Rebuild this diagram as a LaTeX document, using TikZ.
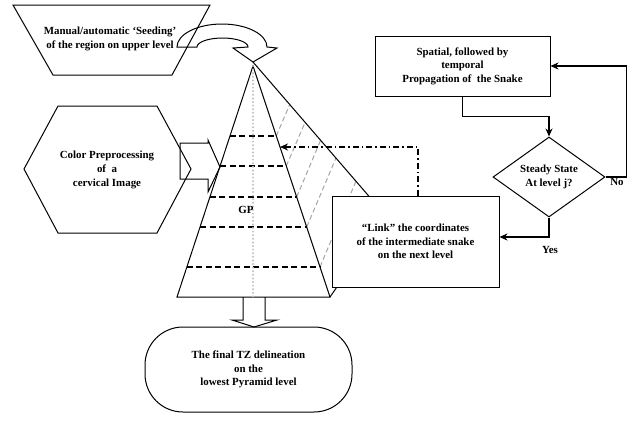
\documentclass[tikz,border=0pt]{standalone}
\usepackage{fontspec}
\setmainfont{Liberation Serif}
\usetikzlibrary{shapes.geometric,arrows.meta,calc}
\begin{document}
\begin{tikzpicture}[x=1pt,y=-1pt,
  txt/.style={font=\fontsize{10.9}{13.6}\selectfont\bfseries, align=center},
  shp/.style={line width=1pt},
  conn/.style={line width=1.3pt, -{Stealth[length=8pt,width=7pt]}},
  dashdotline/.style={line width=1.3pt, dash pattern=on 6pt off 3pt on 1.5pt off 3pt, -{Stealth[length=8pt,width=7pt]}},
  lvl/.style={line width=1.5pt, dash pattern=on 6pt off 3.5pt},
  gdash/.style={draw=gray!70, line width=1pt, dash pattern=on 5pt off 3pt},
  ]
\useasboundingbox (0,0) rectangle (635,421);

% pyramid
\coordinate (apex) at (253,66);
\coordinate (bl) at (177,297);
\coordinate (br) at (330,297);
\coordinate (back) at (386,216);
\coordinate (lk) at (280,147);

\draw[gdash] (276.3,136) -- (289.5,105);
\draw[gdash] (286.3,166) -- (305,122.5);
\draw[gdash] (296.7,197) -- (320.5,140.5);
\draw[gdash] (306.7,227) -- (336,158);
\draw[gdash] (320,267) -- (356,181);

\draw[shp] (253,62) -- (back);
\draw[shp] (br) -- (back);
\draw[shp] (apex) -- (bl) -- (br) -- cycle;
\foreach \yy in {136,166,197,227,267}
  \draw[lvl] ($(apex)!{(\yy-66)/231}!(bl)$) -- ($(apex)!{(\yy-66)/231}!(br)$);
\draw[gray!50, line width=2.2pt, line cap=round, dash pattern=on 0pt off 3.6pt] (apex) -- (253,297);
\node[txt] (gp) at (246,210) {GP};

% link box
\node[draw, shp, fill=white, minimum width=167pt, minimum height=91pt, txt] (link) at (415.5,241.5)
  {``Link'' the coordinates\\of the intermediate snake\\on the next level};

% seeding trapezoid
\draw[shp] (13,5) -- (210,5) -- (172,75) -- (53,75) -- cycle;
\node[txt] (seed) at (110,39) {Manual/automatic `Seeding'\\of the region on upper level};

% curved block arrow
\draw[shp] (177,47) arc[start angle=180, end angle=360, x radius=45, y radius=23]
  -- (277,48) -- (253,62) -- (233,48) -- (248,47)
  arc[start angle=360, end angle=180, x radius=25.5, y radius=9] -- cycle;

% hexagon
\draw[shp] (24,169) -- (58,106) -- (157,106) -- (191,169) -- (157,233) -- (58,233) -- cycle;
\node[txt] (color) at (107,170) {Color Preprocessing\\of~ a\\cervical Image};

% block arrow hexagon -> pyramid
\draw[shp] (180,143) -- (208,143) -- (208,140) -- (220,167) -- (208,192) -- (208,179) -- (180,179) -- cycle;

% down block arrow
\draw[shp] (243,297) -- (243,320) -- (232,320) -- (254,327) -- (277,320) -- (265,320) -- (265,297);

% terminal
\node[draw, shp, rounded corners=38pt, minimum width=207pt, minimum height=85pt, txt] (final) at (248.5,369.5)
  {The final TZ delineation\\on the\\lowest Pyramid level};

% spatial box
\node[draw, shp, minimum width=175pt, minimum height=60pt, txt] (spat) at (462.5,66)
  {Spatial, followed by\\temporal\\Propagation of~ the Snake};

% diamond
\node[draw, shp, diamond, aspect=1.4, inner sep=0pt, minimum width=112pt, minimum height=80pt, txt] (diam) at (549,177)
  {Steady State\\At level j?};

\node[txt] (no) at (617,182) {No};
\node[txt] (yes) at (550,250) {Yes};

% connectors
\draw[conn] (spat.south) -- ++(0,20) -| (diam.north);
\draw[conn] (diam.east) -- ++(21,0) |- (spat.east);
\draw[conn] (diam.south) |- ([yshift=4.5pt]link.east);
\draw[dashdotline] ([xshift=2.5pt]link.north) |- (lk);
\end{tikzpicture}
\end{document}
